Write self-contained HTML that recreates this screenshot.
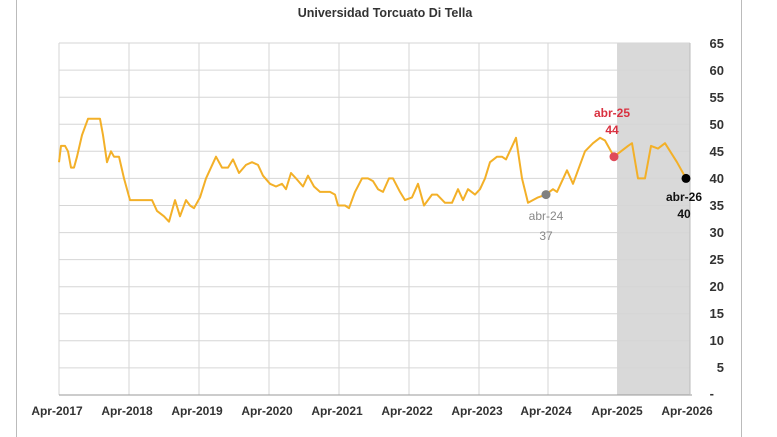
<!DOCTYPE html>
<html><head><meta charset="utf-8"><style>
html,body{margin:0;padding:0;background:#fff;}
svg{display:block;font-family:"Liberation Sans",sans-serif;}
</style></head><body>
<svg width="777" height="437" viewBox="0 0 777 437">
<rect width="777" height="437" fill="#fff"/>
<line x1="16.5" y1="0" x2="16.5" y2="437" stroke="#bbb"/>
<line x1="741.5" y1="0" x2="741.5" y2="437" stroke="#bbb"/>
<text x="385" y="17" text-anchor="middle" font-size="12.5" font-weight="bold" fill="#333">Universidad Torcuato Di Tella</text>
<rect x="617" y="43" width="73" height="352" fill="#d9d9d9"/>
<g stroke="#d6d6d6" stroke-width="1">
<line x1="59" y1="43" x2="690" y2="43"/><line x1="59" y1="70.1" x2="690" y2="70.1"/>
<line x1="59" y1="97.2" x2="690" y2="97.2"/><line x1="59" y1="124.2" x2="690" y2="124.2"/>
<line x1="59" y1="151.3" x2="690" y2="151.3"/><line x1="59" y1="178.4" x2="690" y2="178.4"/>
<line x1="59" y1="205.5" x2="690" y2="205.5"/><line x1="59" y1="232.6" x2="690" y2="232.6"/>
<line x1="59" y1="259.6" x2="690" y2="259.6"/><line x1="59" y1="286.7" x2="690" y2="286.7"/>
<line x1="59" y1="313.8" x2="690" y2="313.8"/><line x1="59" y1="340.8" x2="690" y2="340.8"/>
<line x1="59" y1="367.9" x2="690" y2="367.9"/>
<line x1="59" y1="43" x2="59" y2="395"/><line x1="129" y1="43" x2="129" y2="395"/>
<line x1="199" y1="43" x2="199" y2="395"/><line x1="269" y1="43" x2="269" y2="395"/>
<line x1="339" y1="43" x2="339" y2="395"/><line x1="409" y1="43" x2="409" y2="395"/>
<line x1="479" y1="43" x2="479" y2="395"/><line x1="548" y1="43" x2="548" y2="395"/>
<line x1="619" y1="43" x2="619" y2="395"/>
</g>
<line x1="59" y1="395" x2="692" y2="395" stroke="#999"/>
<line x1="690" y1="43" x2="690" y2="395" stroke="#bbb"/>
<g font-size="13" font-weight="bold" fill="#333" text-anchor="end">
<text x="724" y="48">65</text><text x="724" y="75">60</text><text x="724" y="102">55</text>
<text x="724" y="129">50</text><text x="724" y="156">45</text><text x="724" y="183">40</text>
<text x="724" y="210">35</text><text x="724" y="237">30</text><text x="724" y="264">25</text>
<text x="724" y="291">20</text><text x="724" y="318">15</text><text x="724" y="345">10</text>
<text x="724" y="372">5</text><text x="714" y="398">-</text>
</g>
<g font-size="12" font-weight="bold" fill="#333" text-anchor="middle">
<text x="57" y="415">Apr-2017</text><text x="127" y="415">Apr-2018</text>
<text x="197" y="415">Apr-2019</text><text x="267" y="415">Apr-2020</text>
<text x="337" y="415">Apr-2021</text><text x="407" y="415">Apr-2022</text>
<text x="477" y="415">Apr-2023</text><text x="546" y="415">Apr-2024</text>
<text x="617" y="415">Apr-2025</text><text x="687" y="415">Apr-2026</text>
</g>
<polyline fill="none" stroke="#f3b028" stroke-width="2" stroke-linejoin="round" points="59,162.2 61,145.9 65,145.9 68,151.3 71,167.6 74,167.6 77,156.7 82,135.1 88,118.8 100,118.8 103,135.1 107,162.2 111,151.3 114,156.7 119,156.7 124,178.4 130,200.1 137,200.1 152,200.1 157,210.9 164,216.3 169,221.7 175,200.1 180,216.3 186,200.1 190,205.5 194,208.2 200,197.4 206,178.4 216,156.7 222,167.6 228,167.6 233,159.4 239,173 246,164.9 252,162.2 258,164.9 263,175.7 270,183.8 276,186.5 282,183.8 286,189.2 291,173 296,178.4 303,186.5 308,175.7 314,186.5 320,191.9 330,191.9 335,194.6 338,205.5 345,205.5 349,208.2 355,191.9 362,178.4 368,178.4 373,181.1 378,189.2 383,191.9 389,178.4 393,178.4 400,191.9 405,200.1 412,197.4 418,183.8 424,205.5 432,194.6 437,194.6 445,202.8 452,202.8 458,189.2 463,200.1 468,189.2 475,194.6 480,189.2 485,178.4 490,162.2 497,156.7 502,156.7 506,159.4 516,137.8 522,178.4 528,202.8 538,197.4 546,194.6 553,189.2 557,191.9 567,170.3 573,183.8 585,151.3 593,143.2 600,137.8 605,140.5 614,156.7 628,145.9 632,143.2 638,178.4 645,178.4 651,145.9 658,148.6 665,143.2 677,162.2 686,178.4"/>
<circle cx="546" cy="194.6" r="4.5" fill="#808080"/>
<circle cx="614" cy="156.7" r="4.5" fill="#e04a5a"/>
<circle cx="686" cy="178.4" r="4.5" fill="#000"/>
<g font-size="12" text-anchor="middle">
<text x="546" y="220" fill="#888">abr-24</text><text x="546" y="240" fill="#888">37</text>
<text x="612" y="117" fill="#d9303f" font-weight="bold">abr-25</text><text x="612" y="134" fill="#d9303f" font-weight="bold">44</text>
<text x="684" y="201" fill="#111" font-weight="bold">abr-26</text><text x="684" y="218" fill="#111" font-weight="bold">40</text>
</g>
</svg>
</body></html>
